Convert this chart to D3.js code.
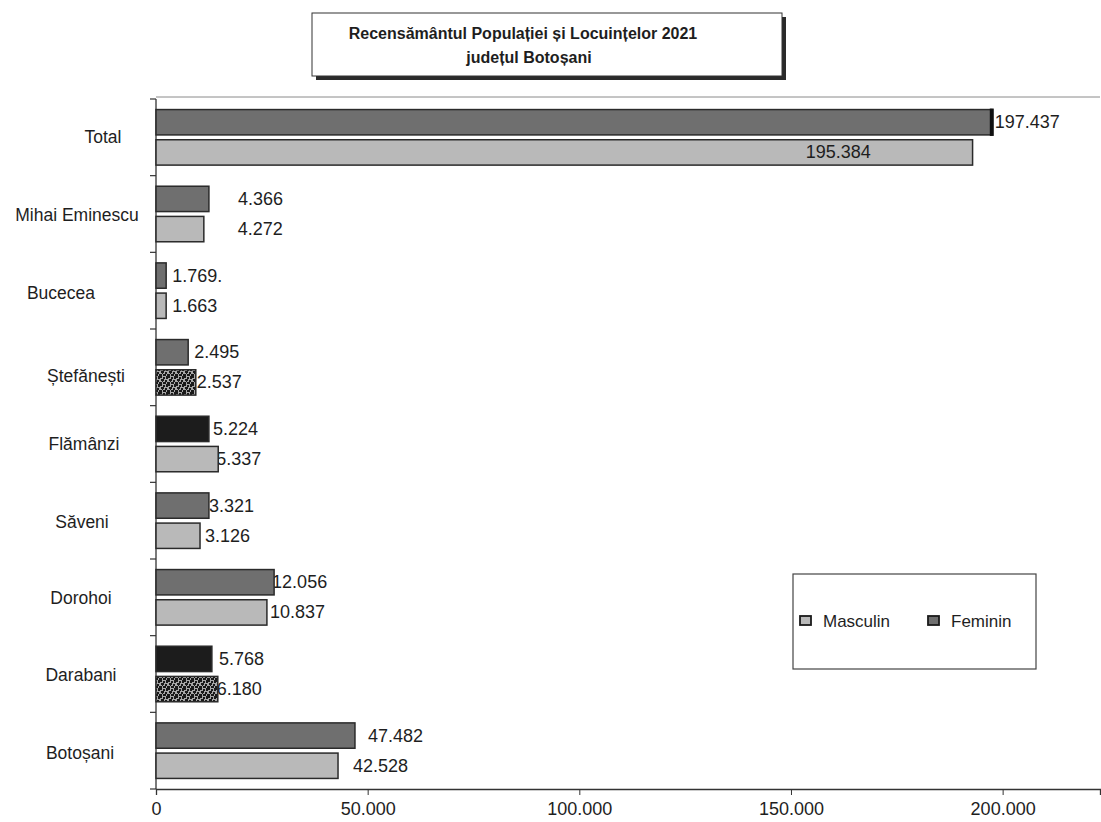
<!DOCTYPE html>
<html>
<head>
<meta charset="utf-8">
<script src="https://cdn.jsdelivr.net/npm/d3@7"></script>
<style>
  html, body { margin: 0; padding: 0; background: #fff; }
  svg { display: block; }
  text { font-family: "Liberation Sans", Arial, sans-serif; fill: #1e1e1e; }
</style>
</head>
<body>
<svg id="chart" width="1101" height="822"></svg>
<script>
// ---- data ----
const categories = ["Total", "Mihai Eminescu", "Bucecea", "Ștefănești", "Flămânzi", "Săveni", "Dorohoi", "Darabani", "Botoșani"];
const series = ["Feminin", "Masculin"];
// bar lengths as drawn in the original
const femininBars  = [197437, 12500, 2400, 7600, 12500, 12500, 27900, 13200, 47000];
const masculinBars = [192900, 11300, 2400, 9400, 14700, 10400, 26200, 14600, 43000];
// value labels as printed in the original
const femininLabels  = ["197.437", "4.366", "1.769.", "2.495", "5.224", "3.321", "12.056", "5.768", "47.482"];
const masculinLabels = ["195.384", "4.272", "1.663", "2.537", "5.337", "3.126", "10.837", "6.180", "42.528"];
const xTicks = [0, 50000, 100000, 150000, 200000];
const titleLines = ["Recensământul Populației și Locuințelor 2021", "județul Botoșani"];
const legendItems = ["Masculin", "Feminin"];

// ---- style ----
const colF = "#6f6f6f", colM = "#b9b9b9", stroke = "#2a2a2a";
const catFont = 17.5, valFont = 18, tickFont = 18;
// label offsets from bar end (px)
const offF = [3, 29, 6, 6, 4, 0, -2, 7, 13];
const offM = [0, 34, 6, 1, -2, 5, 3, -1, 15];
// category label centres / vertical nudges (px)
const catX = [103, 77, 61, 86, 84, 82, 81, 81, 80];
const catDy = [0, 1, 2, 9, 0, 1, 1, 1, 2];
// special fills as in the scanned original
const fillF = [null, null, null, null, "#1c1c1c", null, null, "#1c1c1c", null];
const fillM = [null, null, null, "url(#speckle)", null, null, null, "url(#speckle)", null];

const svg = d3.select("#chart");

const defs = svg.append("defs");
const pat = defs.append("pattern").attr("id", "speckle").attr("patternUnits", "userSpaceOnUse")
  .attr("width", 8).attr("height", 8);
pat.append("rect").attr("width", 8).attr("height", 8).attr("fill", "#a8a8a8");
[[0,0,2,2],[3,1,2,2],[6,0,2,3],[1,3,3,2],[5,4,2,2],[0,6,2,2],[3,6,3,2],[7,6,1,2],[2,5,1,1]].forEach(r =>
  pat.append("rect").attr("x", r[0]).attr("y", r[1]).attr("width", r[2]).attr("height", r[3]).attr("fill", "#1a1a1a"));

const x = d3.scaleLinear().domain([0, 223000]).range([156, 1100]);
const y = d3.scaleBand().domain(categories).range([99, 789]);
const ySub = d3.scaleBand().domain(series).range([0, y.bandwidth()]).paddingInner(0.16).paddingOuter(0.35);

// top border line
svg.append("line").attr("x1", x(0)).attr("x2", x.range()[1]).attr("y1", y.range()[0] - 2).attr("y2", y.range()[0] - 2)
  .attr("stroke", "#8a8a8a").attr("stroke-width", 1);

// x axis
const fmt = d => d3.format(",")(d).replace(/,/g, ".");
const xAxis = svg.append("g").attr("transform", `translate(0,${y.range()[1]})`)
  .call(d3.axisBottom(x).tickValues(xTicks).tickFormat(fmt).tickSizeOuter(0).tickSize(6).tickPadding(7));
xAxis.select(".domain").attr("stroke", "#333").attr("stroke-width", 1.3);
xAxis.selectAll(".tick line").attr("stroke", "#333");
xAxis.selectAll(".tick text").attr("font-size", tickFont).attr("font-family", "Liberation Sans, Arial, sans-serif").attr("fill", "#1e1e1e");

// y axis line and ticks at band boundaries
svg.append("line").attr("x1", x(0)).attr("x2", x(0)).attr("y1", y.range()[0]).attr("y2", y.range()[1])
  .attr("stroke", "#333").attr("stroke-width", 1.3);
const bounds = categories.map(c => y(c)).concat([y.range()[1]]);
svg.append("g").selectAll("line").data(bounds).join("line")
  .attr("x1", x(0) - 6).attr("x2", x(0)).attr("y1", d => d).attr("y2", d => d)
  .attr("stroke", "#333").attr("stroke-width", 1.2);

// category labels
svg.append("g").selectAll("text").data(categories).join("text")
  .attr("x", (d, i) => catX[i])
  .attr("y", (d, i) => y(d) + y.bandwidth() / 2 + 6 + catDy[i])
  .attr("text-anchor", "middle").attr("font-size", catFont)
  .text(d => d);

// rows
const rows = categories.map((c, i) => ({
  c, i,
  F: { v: femininBars[i], label: femininLabels[i], off: offF[i], fill: fillF[i] || colF, s: "Feminin" },
  M: { v: masculinBars[i], label: masculinLabels[i], off: offM[i], fill: fillM[i] || colM, s: "Masculin" }
}));

// value labels (drawn under bars, as in the original where bar ends cover some digits)
const lbl = svg.append("g");
const bars = svg.append("g");
const lblTop = svg.append("g");
rows.forEach(r => {
  ["F", "M"].forEach(k => {
    const d = r[k];
    const by = y(r.c) + ySub(d.s);
    bars.append("rect")
      .attr("x", x(0)).attr("y", by)
      .attr("width", x(d.v) - x(0)).attr("height", ySub.bandwidth())
      .attr("fill", d.fill).attr("stroke", stroke).attr("stroke-width", 1.5);
    const inside = (r.i === 0 && k === "M");
    (inside ? lblTop : lbl).append("text")
      .attr("x", inside ? (x(0) + x(d.v)) / 2 + 274 : x(d.v) + d.off)
      .attr("y", by + ySub.bandwidth() / 2 + 6)
      .attr("text-anchor", inside ? "middle" : "start")
      .attr("font-size", valFont)
      .attr("fill", inside ? "#3a3a3a" : "#1e1e1e")
      .text(d.label);
  });
});
// dark cap at the end of the Total / Feminin bar
bars.append("rect").attr("x", x(femininBars[0]) - 2).attr("y", y(categories[0]) + ySub("Feminin") - 1)
  .attr("width", 4).attr("height", ySub.bandwidth() + 2).attr("fill", "#111");

// title box with shadow
const tb = { x: 312, y: 13, w: 470, h: 63 };
svg.append("rect").attr("x", tb.x + 4).attr("y", tb.y + 4).attr("width", tb.w).attr("height", tb.h).attr("fill", "#2a2a2a");
svg.append("rect").attr("x", tb.x).attr("y", tb.y).attr("width", tb.w).attr("height", tb.h)
  .attr("fill", "#fff").attr("stroke", "#333").attr("stroke-width", 1);
svg.append("g").selectAll("text").data(titleLines).join("text")
  .attr("x", (d, i) => i === 0 ? 523 : 529).attr("y", (d, i) => 39 + i * 24)
  .attr("text-anchor", "middle").attr("font-size", 16).attr("font-weight", "bold")
  .attr("fill", "#222")
  .text(d => d);

// legend
const lg = svg.append("g");
lg.append("rect").attr("x", 793).attr("y", 574).attr("width", 243).attr("height", 95)
  .attr("fill", "#fff").attr("stroke", "#444").attr("stroke-width", 1.2);
const legendFill = { Masculin: colM, Feminin: colF };
const legendX = [800, 928];
legendItems.forEach((s, i) => {
  lg.append("rect").attr("x", legendX[i]).attr("y", 616).attr("width", 11).attr("height", 9)
    .attr("fill", legendFill[s]).attr("stroke", "#1a1a1a").attr("stroke-width", 1.8);
  lg.append("text").attr("x", legendX[i] + 23).attr("y", 627).attr("font-size", 17).text(s);
});
</script>
</body>
</html>
